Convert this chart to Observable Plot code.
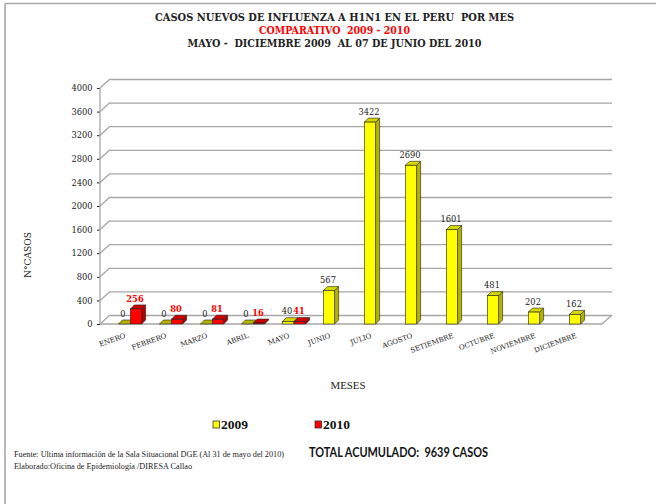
<!DOCTYPE html>
<html><head><meta charset="utf-8">
<script src="https://cdn.jsdelivr.net/npm/d3@7"></script>
<script src="https://cdn.jsdelivr.net/npm/@observablehq/plot@0.6"></script>
<style>body{margin:0;background:#fff} svg{display:block}</style>
</head><body><div id="chart"></div>
<script>
// ---- data ----
const months = ["ENERO","FEBRERO","MARZO","ABRIL","MAYO","JUNIO","JULIO","AGOSTO","SETIEMBRE","OCTUBRE","NOVIEMBRE","DICIEMBRE"];
const cases2009 = [0,0,0,0,40,567,3422,2690,1601,481,202,162];
const cases2010 = [256,80,81,16,41];
const years = ["2009","2010"];
const yTicks = [0,400,800,1200,1600,2000,2400,2800,3200,3600,4000];
const titleLines = ["CASOS NUEVOS DE INFLUENZA A H1N1 EN EL PERU  POR MES","COMPARATIVO  2009 - 2010","MAYO -  DICIEMBRE 2009  AL 07 DE JUNIO DEL 2010"];
const yLabel = "N°CASOS";
const xLabel = "MESES";
const footerLines = ["Fuente: Ultima información de la Sala Situacional DGE (Al 31 de mayo del 2010)","Elaborado:Oficina de Epidemiología /DIRESA Callao"];
const totalText = "TOTAL ACUMULADO:  9639 CASOS";

const rows2009 = cases2009.map((v,i)=>({month:months[i], year:years[0], value:v}));
const rows2010 = cases2010.map((v,i)=>({month:months[i], year:years[1], value:v}));

// ---- style constants ----
const W=656, H=504;
const inset = 14.9;
const dx09 = -1.5, dx10 = 10.5;
const barDepth = [4,-4], wallDepth = [10,-9];
const colors = {
  "2009": {front:"#ffff00", side:"#b3b300", top:"#d6d600", flat:"#b3b300"},
  "2010": {front:"#ff0000", side:"#b00000", top:"#d40000", flat:"#a00000"}
};
const serif = "'DejaVu Serif', serif";

const plot = Plot.plot({
  width:W, height:H, marginTop:88, marginBottom:180, marginLeft:100, marginRight:54,
  style:{fontFamily:serif, fontSize:"8.3px", background:"#fff", color:"#222"},
  x:{domain:months, padding:0, axis:null},
  y:{domain:[0,4000], ticks:yTicks, tickSize:3, tickPadding:5, tickFormat:d=>String(d), label:null},
  marks:[
    Plot.ruleY(yTicks,{stroke:"#a6a6a6", strokeWidth:1.3, dx:wallDepth[0], dy:wallDepth[1]}),
    Plot.barY(rows2009,{x:"month", y:"value", fill:colors["2009"].front, stroke:"#222", strokeWidth:0.6, insetLeft:inset, insetRight:inset, dx:dx09}),
    Plot.barY(rows2010,{x:"month", y:"value", fill:colors["2010"].front, stroke:"#222", strokeWidth:0.6, insetLeft:inset, insetRight:inset, dx:dx10}),
    Plot.text(rows2009,{x:"month", y:"value", text:d=>String(d.value), dx:dx09-1.5, dy:-10.5, fill:"#222"}),
    Plot.text(rows2010,{x:"month", y:"value", text:d=>String(d.value), dx:dx10-1.5, dy:-10.5, fill:"#ff0000", fontWeight:"bold"}),
    Plot.text(months,{x:d=>d, text:d=>d, frameAnchor:"bottom", dy:13, rotate:-20, textAnchor:"end", fontSize:7, fill:"#222"})
  ]
});
document.getElementById("chart").appendChild(plot);

// ---- 3D decorations through the plot's scales ----
const xs = plot.scale("x"), ys = plot.scale("y");
const bw = xs.bandwidth;
const svg = d3.select(plot);
const y0 = ys.apply(0);
const xL = 100, xR = W-54;

const deco = document.createElementNS("http://www.w3.org/2000/svg","g");
const firstBar = plot.querySelector('g[aria-label="bar"]');
plot.insertBefore(deco, firstBar);
const dg = d3.select(deco);

dg.selectAll("line.conn").data(yTicks).join("line")
  .attr("x1",xL).attr("y1",d=>ys.apply(d)).attr("x2",xL+wallDepth[0]).attr("y2",d=>ys.apply(d)+wallDepth[1])
  .attr("stroke","#a6a6a6").attr("stroke-width",1.3);
dg.append("line").attr("x1",xL).attr("x2",xL).attr("y1",ys.apply(0)).attr("y2",ys.apply(4000)).attr("stroke","#a6a6a6").attr("stroke-width",1.3);
dg.append("line").attr("x1",xL).attr("x2",xR).attr("y1",y0).attr("y2",y0).attr("stroke","#a6a6a6").attr("stroke-width",1.3);
dg.append("line").attr("x1",xR).attr("x2",xR+wallDepth[0]).attr("y1",y0).attr("y2",y0+wallDepth[1]).attr("stroke","#a6a6a6").attr("stroke-width",1.3);

function faces(rows, dx, year){
  rows.forEach(r=>{
    const x1 = xs.apply(r.month)+inset+dx, x2 = xs.apply(r.month)+bw-inset+dx;
    const yt = ys.apply(r.value);
    const [ddx, ddy] = barDepth;
    const c = colors[year];
    dg.append("path").attr("d",`M${x2},${y0}L${x2+ddx},${y0+ddy}L${x2+ddx},${yt+ddy}L${x2},${yt}Z`)
      .attr("fill",c.side).attr("stroke","#222").attr("stroke-width",0.6);
    dg.append("path").attr("d",`M${x1},${yt}L${x1+ddx},${yt+ddy}L${x2+ddx},${yt+ddy}L${x2},${yt}Z`)
      .attr("fill", r.value===0 ? c.flat : c.top).attr("stroke","#222").attr("stroke-width",0.6);
  });
}
faces(rows2009, dx09, "2009");
faces(rows2010, dx10, "2010");

// ---- texts, legend, frame ----
const tcol = ["#222","#ff0000","#222"], tlen=[359,151,294], tbase=[20.5,33.5,46.5];
titleLines.forEach((t,i)=>{
  svg.append("text").text(t).attr("x",334.5).attr("y",tbase[i]).attr("text-anchor","middle")
    .attr("font-family",serif).attr("font-weight","bold").attr("font-size",10.3)
    .attr("textLength",tlen[i]).attr("lengthAdjust","spacingAndGlyphs").attr("fill",tcol[i]);
});
svg.append("text").text(yLabel).attr("transform","translate(30.5,255) rotate(-90)").attr("text-anchor","middle")
  .attr("font-family",serif).attr("font-size",10).attr("textLength",46).attr("lengthAdjust","spacingAndGlyphs").attr("fill","#222");
svg.append("text").text(xLabel).attr("x",348).attr("y",389).attr("text-anchor","middle")
  .attr("font-family","'Liberation Serif', serif").attr("font-size",11).attr("textLength",35).attr("lengthAdjust","spacingAndGlyphs").attr("fill","#222");

const legX = [213, 315];
years.forEach((yr,i)=>{
  svg.append("rect").attr("x",legX[i]).attr("y",421).attr("width",6.5).attr("height",7)
    .attr("fill",colors[yr].front).attr("stroke","#333").attr("stroke-width",0.8);
  svg.append("text").text(yr).attr("x",legX[i]+8).attr("y",429).attr("text-anchor","start")
    .attr("font-family","'Liberation Serif', serif").attr("font-weight","bold").attr("font-size",13.5).attr("fill","#111");
});
const fLen=[270,178], fBase=[457,468.5];
footerLines.forEach((t,i)=>{
  svg.append("text").text(t).attr("x",14).attr("y",fBase[i]).attr("text-anchor","start")
    .attr("font-family","'Liberation Serif', serif").attr("font-size",8.6)
    .attr("textLength",fLen[i]).attr("lengthAdjust","spacingAndGlyphs").attr("fill","#222");
});
svg.append("text").text(totalText).attr("x",309).attr("y",456.7).attr("text-anchor","start")
  .attr("font-family","Lato, sans-serif").attr("font-weight","bold").attr("font-size",13.5)
  .attr("textLength",179).attr("lengthAdjust","spacingAndGlyphs").attr("fill","#111");

svg.append("line").attr("x1",5).attr("x2",W).attr("y1",3.5).attr("y2",3.5).attr("stroke","#a8a8a8").attr("stroke-width",1.6);
svg.append("line").attr("x1",5).attr("x2",5).attr("y1",3.5).attr("y2",H).attr("stroke","#a8a8a8").attr("stroke-width",1.6);
</script></body></html>
